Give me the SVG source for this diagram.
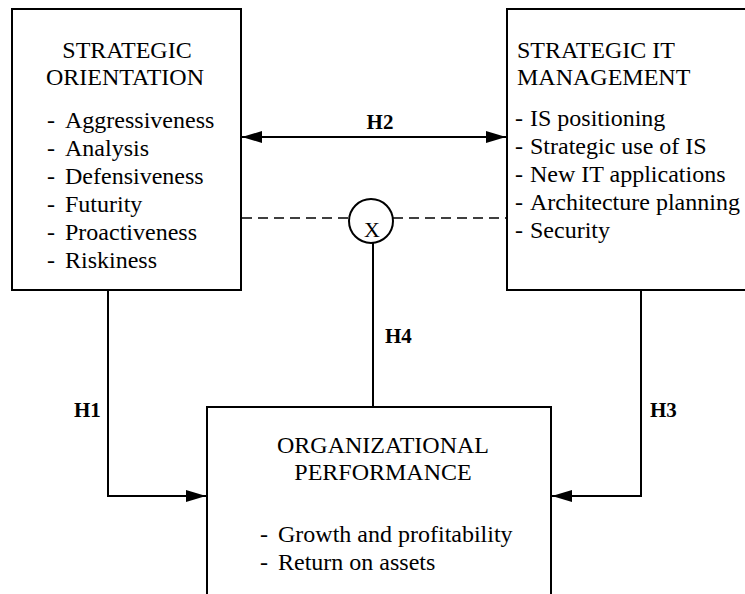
<svg xmlns="http://www.w3.org/2000/svg" width="745" height="594" viewBox="0 0 745 594">
<style>
.box{fill:#fff;stroke:#000;stroke-width:2}
.t{font-family:"Liberation Serif","Times New Roman",serif;font-size:24px;fill:#000}
.h{font-family:"Liberation Serif","Times New Roman",serif;font-size:21px;font-weight:bold;fill:#000}
.c{text-anchor:middle}
.ln{fill:none;stroke:#000;stroke-width:2}
.dash{fill:none;stroke:#000;stroke-width:1.6;stroke-dasharray:10 6}
</style>
<defs>
<marker id="arr" viewBox="0 0 20 12" refX="20" refY="6" markerWidth="20" markerHeight="12" markerUnits="userSpaceOnUse" orient="auto-start-reverse">
<path d="M0,0 L20,6 L0,12 z" fill="#000"/>
</marker>
</defs>
<g id="connectors">
<line class="ln" x1="242" y1="137" x2="506" y2="137" marker-start="url(#arr)" marker-end="url(#arr)"/>
<line class="dash" x1="242" y1="218" x2="349" y2="218"/>
<line class="dash" x1="393" y1="218" x2="506" y2="218"/>
<path class="ln" d="M108,290 V496 H206" marker-end="url(#arr)"/>
<path class="ln" d="M641,290 V496 H552" marker-end="url(#arr)"/>
<line class="ln" x1="373" y1="243" x2="373" y2="407"/>
<text class="h c" x="380" y="129">H2</text>
<text class="h" x="74" y="417">H1</text>
<text class="h" x="650" y="417">H3</text>
<text class="h" x="385" y="343">H4</text>
</g>
<g id="strategic-orientation">
<rect class="box" x="12" y="9" width="229" height="281"/>
<text class="t c" x="127" y="58">STRATEGIC</text>
<text class="t c" x="125" y="85">ORIENTATION</text>
<text class="t" x="47" y="128">-</text><text class="t" x="65" y="128">Aggressiveness</text>
<text class="t" x="47" y="156">-</text><text class="t" x="65" y="156">Analysis</text>
<text class="t" x="47" y="184">-</text><text class="t" x="65" y="184">Defensiveness</text>
<text class="t" x="47" y="212">-</text><text class="t" x="65" y="212">Futurity</text>
<text class="t" x="47" y="240">-</text><text class="t" x="65" y="240">Proactiveness</text>
<text class="t" x="47" y="268">-</text><text class="t" x="65" y="268">Riskiness</text>
</g>
<g id="strategic-it-management">
<rect class="box" x="507" y="9" width="250" height="281"/>
<text class="t" x="517" y="58">STRATEGIC IT</text>
<text class="t" x="517" y="85">MANAGEMENT</text>
<text class="t" x="515" y="126">-</text><text class="t" x="530" y="126">IS positioning</text>
<text class="t" x="515" y="154">-</text><text class="t" x="530" y="154">Strategic use of IS</text>
<text class="t" x="515" y="182">-</text><text class="t" x="530" y="182">New IT applications</text>
<text class="t" x="515" y="210">-</text><text class="t" x="530" y="210">Architecture planning</text>
<text class="t" x="515" y="238">-</text><text class="t" x="530" y="238">Security</text>
</g>
<g id="moderator">
<circle cx="371" cy="221" r="22" fill="#fff" stroke="#000" stroke-width="2"/>
<text class="t c" x="372" y="237" style="font-size:22px">X</text>
</g>
<g id="organizational-performance">
<rect class="box" x="207" y="407" width="344" height="200"/>
<text class="t c" x="383" y="453">ORGANIZATIONAL</text>
<text class="t c" x="383" y="480">PERFORMANCE</text>
<text class="t" x="260" y="542">-</text><text class="t" x="278" y="542">Growth and profitability</text>
<text class="t" x="260" y="570">-</text><text class="t" x="278" y="570">Return on assets</text>
</g>
</svg>
